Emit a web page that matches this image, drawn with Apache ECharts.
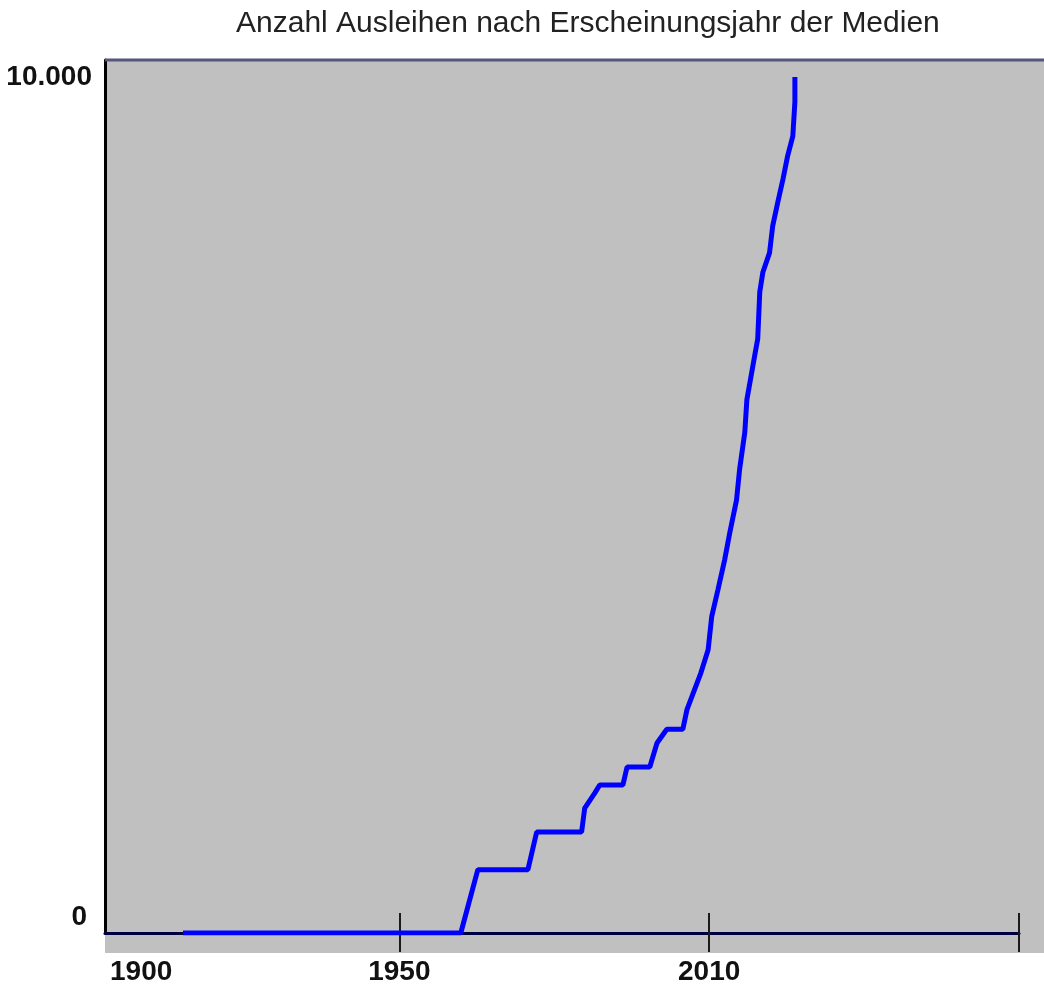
<!DOCTYPE html>
<html>
<head>
<meta charset="utf-8">
<script src="https://cdn.jsdelivr.net/npm/echarts@6/dist/echarts.min.js"></script>
<style>
html,body{margin:0;padding:0;background:#fff;}
#chart{width:1044px;height:990px;}
</style>
</head>
<body>
<div id="chart"></div>
<script>
const titleText = 'Anzahl Ausleihen nach Erscheinungsjahr der Medien';
const years = [1908.1, 1961.9, 1965.2, 1974.9, 1976.6, 1985.3, 1985.9, 1987.9, 1988.8, 1993.3,
  1994.1, 1998.5, 1999.9, 2001.8, 2004.9, 2005.7, 2008.4, 2009.8, 2010.5, 2011.7,
  2013.0, 2014.0, 2015.3, 2015.9, 2016.9, 2017.3, 2018.8, 2019.4, 2019.8, 2020.4,
  2021.7, 2022.3, 2023.3, 2024.3, 2025.2, 2026.2, 2026.6, 2026.6];
const loans = [0, 0, 740, 740, 1180, 1180, 1460, 1640, 1730, 1730,
  1940, 1940, 2220, 2380, 2380, 2610, 3040, 3310, 3700, 4010,
  4360, 4680, 5060, 5420, 5850, 6230, 6740, 6940, 7490, 7720,
  7950, 8260, 8540, 8810, 9080, 9310, 9710, 10000];
const xLabelValues = [1900, 1950, 2010];
const xTickValues = [1950, 2010, 2070];
const yLabelValues = [0, 10000];
const xMin = 1893, xMax = 2070;
const yMin = 0, yMax = 10200;

const FONT = "'Liberation Sans', Arial, sans-serif";
const chart = echarts.init(document.getElementById('chart'));
const seriesData = years.map((y, i) => [y, loans[i]]);

chart.setOption({
  animation: false,
  backgroundColor: '#ffffff',
  title: {
    text: titleText,
    left: 231,
    top: 4,
    textStyle: { fontFamily: FONT, fontSize: 30, fontWeight: 'normal', color: '#222222' }
  },
  graphic: [
    { type: 'rect', z: -10, shape: { x: 105, y: 60, width: 939, height: 893 }, style: { fill: '#c0c0c0' } },
    { type: 'line', z: 10, shape: { x1: 105, y1: 60, x2: 1044, y2: 60 }, style: { stroke: '#55557f', lineWidth: 3 } }
  ],
  grid: { left: 105, right: 25, top: 60, bottom: 57, containLabel: false },
  xAxis: [
    {
      type: 'value', min: xMin, max: xMax, position: 'bottom',
      splitLine: { show: false },
      axisLine: { show: true, onZero: false, lineStyle: { color: '#000040', width: 3 } },
      axisTick: { show: true, customValues: xTickValues, inside: false, length: 19, lineStyle: { color: '#1a1a1a', width: 2 } },
      axisLabel: {
        customValues: xLabelValues, margin: 25,
        fontFamily: FONT, fontSize: 28, fontWeight: 'bold', color: '#111111',
        formatter: v => String(v)
      }
    },
    {
      type: 'value', min: xMin, max: xMax, position: 'bottom',
      splitLine: { show: false },
      axisLine: { show: false, onZero: false },
      axisTick: { show: true, customValues: xTickValues, inside: true, length: 20, lineStyle: { color: '#1a1a1a', width: 2 } },
      axisLabel: { show: false }
    }
  ],
  yAxis: {
    type: 'value', min: yMin, max: yMax,
    splitLine: { show: false },
    axisLine: { show: true, lineStyle: { color: '#000000', width: 3 } },
    axisTick: { show: false },
    axisLabel: {
      customValues: yLabelValues, margin: 13,
      fontFamily: FONT, fontSize: 28, fontWeight: 'bold', color: '#111111',
      formatter: v => v === 0 ? '{z|0}' : '{t|' + v.toLocaleString('de-DE') + '}',
      rich: {
        z: { fontFamily: FONT, fontSize: 28, fontWeight: 'bold', color: '#111111', padding: [0, 5, 32, 0] },
        t: { fontFamily: FONT, fontSize: 28, fontWeight: 'bold', color: '#111111', padding: [0, 0, 0, 0] }
      }
    }
  },
  series: [{
    type: 'line',
    xAxisIndex: 0,
    data: seriesData,
    showSymbol: false,
    symbol: 'none',
    lineStyle: { color: '#0000ff', width: 5 },
    z: 5
  }]
});
</script>
</body>
</html>
